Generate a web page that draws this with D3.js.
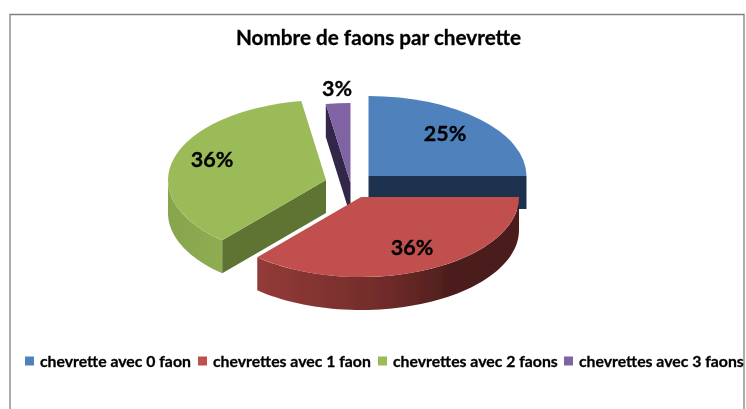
<!DOCTYPE html>
<html>
<head>
<meta charset="utf-8">
<script src="https://cdn.jsdelivr.net/npm/d3@7"></script>
<style>
  body { margin: 0; background: #fff; }
  text { font-family: Lato, sans-serif; font-weight: 700; fill: #000; stroke: #000; stroke-width: 0.3px; }
</style>
</head>
<body>
<svg id="chart" width="746" height="409"></svg>
<script>
var categories = ["chevrette avec 0 faon", "chevrettes avec 1 faon", "chevrettes avec 2 faons", "chevrettes avec 3 faons"];
var values = [25, 36.4, 36.1, 2.5];
var labels = ["25%", "36%", "36%", "3%"];
var colors = ["#4f81bd", "#c0504d", "#9bbb59", "#8064a2"];
var faceColors = ["#1f334f", "#5a2220", "#5f7333", "#33264a"];

var svg = d3.select("#chart");

// Pie geometry (tilted ellipse)
var rx = 158, ry = 80, depth = 33;
var centers = [[368.5, 176], [361, 197], [326, 180], [350.5, 183]];
var slices = d3.pie().sort(null).value(function(d){ return d; })(values);

var defs = svg.append("defs");

// the reference is a slightly soft picture
defs.append("filter").attr("id", "soft")
   .append("feGaussianBlur").attr("stdDeviation", 0.45);

var root = svg.append("g").attr("filter", "url(#soft)");

// frame
root.append("path")
   .attr("d", "M10,409V14.5H744V409")
   .attr("fill", "none")
   .attr("stroke", "#808080")
   .attr("stroke-width", 1.3);

root.append("text")
   .attr("x", 378.5).attr("y", 45)
   .attr("text-anchor", "middle")
   .style("font-size", "20.7px")
   .text("Nombre de faons par chevrette");

function wallGradient(id, stops, x1, x2) {
   var g = defs.append("linearGradient")
      .attr("id", id)
      .attr("gradientUnits", "userSpaceOnUse")
      .attr("x1", x1).attr("x2", x2).attr("y1", 0).attr("y2", 0);
   stops.forEach(function(s){
      g.append("stop").attr("offset", s[0]).attr("stop-color", s[1]);
   });
}
wallGradient("wallRed", [[0, "#933b38"], [0.5, "#6f2b29"], [0.75, "#4b1d1c"], [1, "#4b1d1c"]], 258, 519);
wallGradient("wallGreen", [[0, "#86a54d"], [1, "#8fad52"]], 168, 223);

function px(i, t) { return centers[i][0] + rx * Math.sin(t); }
function py(i, t) { return centers[i][1] - ry * Math.cos(t); }

// outer wall between two angles, as a closed outline
function wallPath(i, a0, a1) {
   var ts = d3.range(0, 61).map(function(k){ return a0 + (a1 - a0) * k / 60; });
   var top = ts.map(function(t){ return [px(i, t), py(i, t)]; });
   var bottom = ts.slice().reverse().map(function(t){ return [px(i, t), py(i, t) + depth]; });
   return d3.line()(top.concat(bottom)) + "Z";
}

// flat cut face going from the apex to the rim at angle t
function facePath(i, t) {
   var c = centers[i];
   return d3.line()([c, [px(i, t), py(i, t)], [px(i, t), py(i, t) + depth], [c[0], c[1] + depth]]) + "Z";
}

var arc = d3.arc().innerRadius(0).outerRadius(rx);

function topFace(i) {
   root.append("path")
      .attr("d", arc(slices[i]))
      .attr("transform", "translate(" + centers[i] + ") scale(1," + (ry / rx) + ")")
      .attr("fill", colors[i]);
}

// back to front: blue, purple, green, red
root.append("path").attr("d", facePath(0, slices[0].endAngle)).attr("fill", faceColors[0]);
topFace(0);

root.append("path").attr("d", facePath(3, slices[3].startAngle)).attr("fill", faceColors[3]);
topFace(3);

root.append("path").attr("d", wallPath(2, slices[2].startAngle, 1.5 * Math.PI)).attr("fill", "url(#wallGreen)");
root.append("path").attr("d", facePath(2, slices[2].startAngle)).attr("fill", faceColors[2]);
topFace(2);

root.append("path").attr("d", wallPath(1, slices[1].startAngle, slices[1].endAngle)).attr("fill", "url(#wallRed)");
topFace(1);

// Data labels
var labelPos = [[445, 133], [412, 247], [212, 159], [337, 88]];
root.selectAll("text.pct")
   .data(labels)
   .enter().append("text")
   .attr("class", "pct")
   .attr("x", function(d, i){ return labelPos[i][0]; })
   .attr("y", function(d, i){ return labelPos[i][1] + 7.5; })
   .attr("text-anchor", "middle")
   .style("font-size", "21.5px")
   .text(function(d){ return d; });

// Legend
var legendX = [25, 198, 378, 564];
var legend = root.selectAll("g.legend")
   .data(categories)
   .enter().append("g")
   .attr("class", "legend")
   .attr("transform", function(d, i){ return "translate(" + legendX[i] + ",361)"; });
legend.append("rect")
   .attr("x", 0).attr("y", -4.5).attr("width", 9).attr("height", 9)
   .attr("fill", function(d, i){ return colors[i]; });
legend.append("text")
   .attr("x", 15).attr("y", 5.5)
   .style("font-size", "15.8px")
   .text(function(d){ return d; });
</script>
</body>
</html>
